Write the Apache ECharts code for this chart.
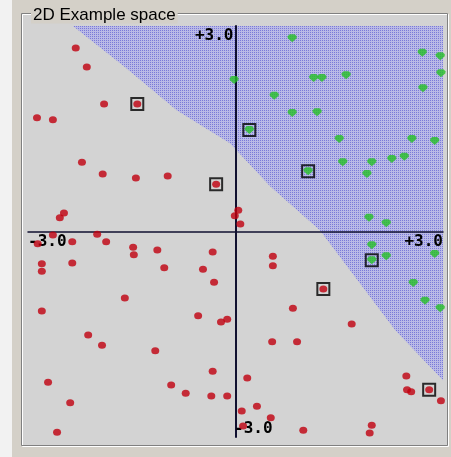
<!DOCTYPE html>
<html><head><meta charset="utf-8">
<style>html,body{margin:0;padding:0;background:#d4d0c8;}#c{width:451px;height:457px;}</style>
<script src="https://cdn.jsdelivr.net/npm/echarts@6/dist/echarts.min.js"></script>
</head><body><div id="c"></div>
<script>
// Class A (red) examples
const classA = [[-2.31,2.68],[-2.15,2.40],[-1.90,1.86],[-1.42,1.86],[-2.87,1.66],[-2.64,1.63],[-2.22,1.01],[-1.92,0.84],[-1.44,0.78],[-0.98,0.81],[-0.28,0.69],[-2.54,0.20],[-2.48,0.27],[0.04,0.31],[-0.01,0.23],[0.07,0.11],[-2.86,-0.18],[-2.64,-0.05],[-2.36,-0.15],[-2.00,-0.04],[-1.87,-0.15],[-1.48,-0.23],[-1.47,-0.34],[-1.13,-0.27],[-2.80,-0.47],[-2.80,-0.58],[-2.36,-0.46],[-1.03,-0.53],[-1.60,-0.97],[-2.80,-1.16],[-2.13,-1.51],[-0.33,-0.30],[-0.47,-0.55],[-0.31,-0.74],[-0.54,-1.23],[-0.21,-1.32],[-0.12,-1.28],[0.54,-0.36],[0.54,-0.50],[1.27,-0.84],[0.83,-1.12],[1.68,-1.35],[0.53,-1.61],[0.89,-1.61],[-1.93,-1.66],[-1.16,-1.74],[-2.71,-2.20],[-0.93,-2.24],[-0.72,-2.36],[-0.33,-2.04],[-0.35,-2.40],[-0.12,-2.40],[-2.39,-2.50],[-2.58,-2.93],[0.17,-2.14],[0.09,-2.62],[0.31,-2.55],[0.51,-2.72],[0.11,-2.84],[0.98,-2.90],[1.97,-2.83],[1.94,-2.94],[2.47,-2.11],[2.48,-2.31],[2.54,-2.34],[2.80,-2.31],[2.97,-2.47]];
// Class B (green) examples
const classB = [[0.82,2.82],[-0.02,2.21],[1.13,2.24],[1.25,2.24],[1.60,2.28],[2.70,2.61],[2.96,2.56],[2.97,2.31],[2.71,2.09],[0.56,1.98],[0.82,1.73],[1.18,1.74],[0.20,1.48],[1.50,1.35],[2.55,1.35],[2.88,1.32],[1.55,1.01],[1.97,1.01],[2.26,1.06],[2.44,1.09],[1.05,0.88],[1.90,0.84],[1.93,0.20],[2.18,0.12],[1.97,-0.20],[1.97,-0.42],[2.18,-0.36],[2.88,-0.33],[2.57,-0.75],[2.74,-1.01],[2.96,-1.12]];
// Boxed examples (support vectors)
const supportVectors = [[-1.42,1.86],[-0.28,0.69],[1.27,-0.84],[2.80,-2.31],[0.20,1.48],[1.05,0.88],[1.97,-0.42]];
// Decision boundary (class B region lies above/right)
const boundary = [[-2.35,3.0],[-1.6,2.4],[-0.85,1.77],[-0.08,1.29],[0.5,0.66],[1.22,0.02],[2.31,-1.44],[3.0,-2.17]];
const regionCorner = [3.0,3.0];
// Axis end labels: [x, y, text]
const xEndLabels = [[-3, 0, '-3.0'], [3, 0, '+3.0']];
const yEndLabels = [[0, 3, '+3.0'], [0, -3, '-3.0']];
const title = '2D Example space';

const pat = document.createElement('canvas');
pat.width = 2; pat.height = 2;
const pc = pat.getContext('2d');
pc.fillStyle = '#babae6'; pc.fillRect(0,0,2,2);
pc.fillStyle = '#7a7ad8'; pc.fillRect(0,0,1,1);

const labelFontCss = 'bold 16px "DejaVu Sans Mono"';

const frame = [
  {type:'rect', z:-10, shape:{x:0,y:0,width:12,height:457}, style:{fill:'#f2f2f2'}},
  {type:'rect', z:-10, shape:{x:22,y:14,width:426,height:431}, style:{fill:'#d3d3d3'}},
  {type:'rect', z:-9, shape:{x:22.5,y:14.5,width:426,height:432}, style:{fill:'none', stroke:'#ffffff', lineWidth:1}},
  {type:'rect', z:-9, shape:{x:21.5,y:13.5,width:426,height:432}, style:{fill:'none', stroke:'#808080', lineWidth:1}},
  {type:'text', z:-8, x:31, y:15, style:{text:title, fill:'#000', font:'17px "Liberation Sans"', verticalAlign:'middle', align:'left', backgroundColor:'#d4d0c8', padding:[0,2,0,2]}}
];

const chart = echarts.init(document.getElementById('c'), null, {renderer:'canvas'});
const axisCommon = {type:'value', min:-3, max:3, z:10, axisTick:{show:false}, splitLine:{show:false}, axisLabel:{show:false}};
chart.setOption({
  animation: false,
  backgroundColor: '#d4d0c8',
  graphic: frame,
  grid: {left:28, top:26, width:415, height:411, outerBoundsMode:'none', containLabel:false},
  xAxis: Object.assign({axisLine:{onZero:true, lineStyle:{color:'#101030', width:1.5}}}, axisCommon),
  yAxis: Object.assign({axisLine:{onZero:true, lineStyle:{color:'#101030', width:2}}}, axisCommon),
  series: [
    {type:'custom', coordinateSystem:'cartesian2d', z:1, silent:true, data:[[0,0]],
     renderItem:(params, api) => {
       const pts = boundary.concat([regionCorner]).map(p => api.coord(p));
       return {type:'polygon', shape:{points:pts}, style:{fill:{image:pat, repeat:'repeat'}}};
     }},
    {type:'scatter', z:19, silent:true, data:supportVectors, symbol:'rect', symbolSize:12,
     itemStyle:{color:'rgba(0,0,0,0)', borderColor:'#000', borderWidth:2}},
    {type:'scatter', z:20, silent:true, data:classA, symbol:'circle', symbolSize:[8,7],
     itemStyle:{color:'#c0000f'}},
    {type:'scatter', z:20, silent:true, data:classB, symbol:'path://M2,0 L7,0 L9,2 L9,4 L4.5,8 L0,4 L0,2 Z', symbolSize:[9,8],
     itemStyle:{color:'#26c026'}}
  ]
});

// Place the axis end labels using the chart's own scales
const toPx = p => chart.convertToPixel({xAxisIndex:0, yAxisIndex:0}, [p[0], p[1]]);
const texts = [];
xEndLabels.forEach(l => {
  const q = toPx(l);
  texts.push({type:'text', z:15, x: q[0], y: q[1] + 2,
    style:{text:l[2], fill:'#000', font:labelFontCss, align: l[0] < 0 ? 'left' : 'right', verticalAlign:'top'}});
});
yEndLabels.forEach(l => {
  const q = toPx(l);
  texts.push(l[1] > 0
    ? {type:'text', z:15, x: q[0] - 2, y: q[1] + 2, style:{text:l[2], fill:'#000', font:labelFontCss, align:'right', verticalAlign:'top'}}
    : {type:'text', z:15, x: q[0] - 1.5, y: q[1], style:{text:l[2], fill:'#000', font:labelFontCss, align:'left', verticalAlign:'bottom'}});
});
chart.setOption({graphic: frame.concat(texts)});
</script></body></html>
